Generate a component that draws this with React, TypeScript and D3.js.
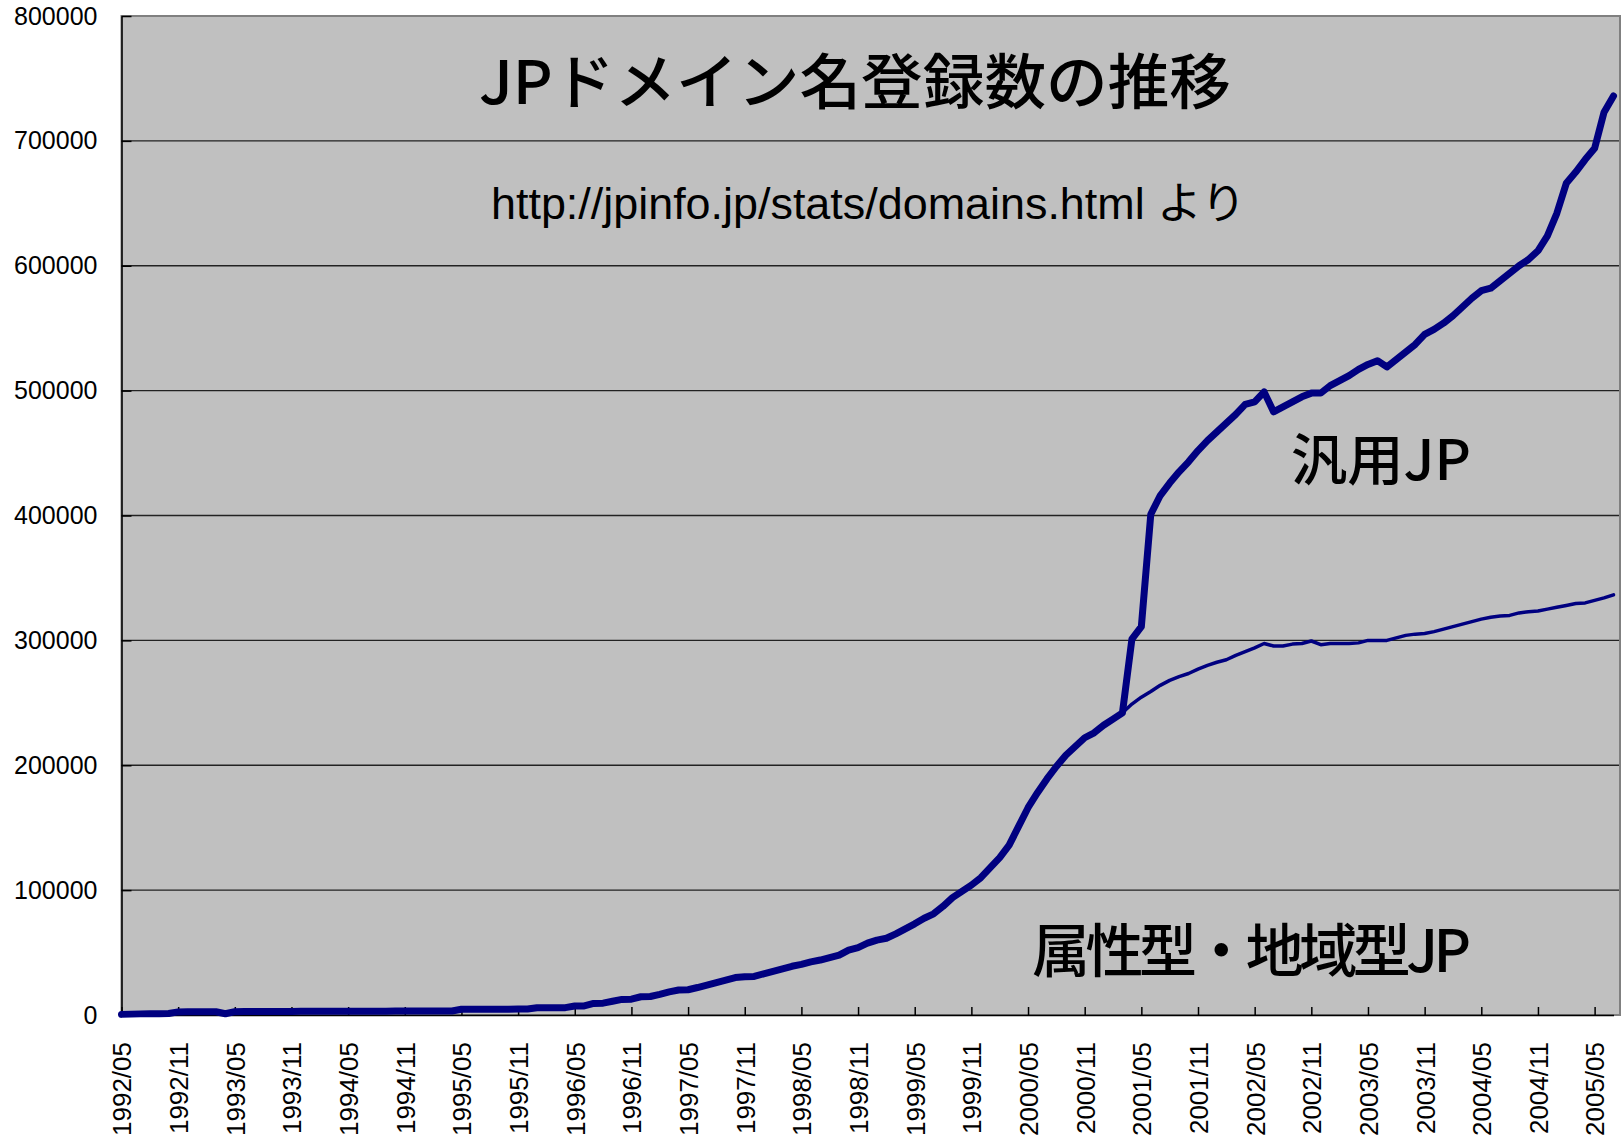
import React, { useRef, useEffect } from 'react';
import * as d3 from 'd3';

const WIDTH = 1622;
const HEIGHT = 1138;

// 属性型・地域型JP, one value a month from 1992/05 to 2005/07
const attrRegional = [
  500, 700, 900, 1000, 1100, 1200, 2500, 2600, 2600, 2600, 2600, 1000,
  2700, 2800, 2800, 2850, 2850, 2900, 2900, 2950, 2950, 3000, 3000, 3000,
  3050, 3050, 3100, 3100, 3100, 3150, 3150, 3150, 3200, 3200, 3200, 3250,
  4600, 4600, 4650, 4650, 4700, 4700, 4750, 4800, 5800, 5800, 5900, 5900,
  7200, 7300, 9300, 9500, 11000, 12500, 12700, 14600, 14800, 16500, 18500, 20000,
  20200, 22000, 24000, 26000, 28000, 30000, 30700, 30900, 33000, 35000, 37000, 39000,
  40500, 42500, 44000, 46000, 48000, 52000, 54000, 57500, 60000, 61500, 65000, 69000,
  73000, 77500, 81000, 87000, 94000, 99000, 104000, 110000, 118000, 126000, 136000, 151000,
  166000, 178000, 189000, 199000, 208000, 215000, 222000, 226000, 232000, 237000, 242000, 249000,
  254500, 259000, 264000, 268000, 271000, 273500, 277000, 280000, 282500, 284500, 288000, 291000,
  294000, 297500, 295500, 295500, 297000, 297500, 299500, 296500, 297500, 297500, 297500, 298000,
  300000, 300000, 300000, 302000, 304000, 305000, 305500, 307000, 309000, 311000, 313000, 315000,
  317000, 318500, 319500, 320000, 322000, 323000, 323500, 325000, 326500, 328000, 329500, 330000,
  332000, 334000, 336500,
];

// 汎用JP, one value a month from 2001/04 (stacked on top of the series above)
const generic = [
  52000, 56500, 142000, 152000, 158000, 164000, 169500, 175000, 180000, 184500, 189500, 193000,
  198000, 197000, 201500, 187500, 191500, 194000, 197500, 198500, 201500, 206500, 210500, 214500,
  219000, 221000, 224000, 219000, 223000, 227000, 232000, 239500, 242000, 245000, 249000, 254000,
  259000, 263000, 263500, 268500, 274000, 278000, 282000, 288500, 299000, 315500, 338000, 345500,
  355000, 362000, 389000, 399500,
];

const firstMonth = '1992/05';
const genericStart = '2001/04';

const yTicks = [0, 100000, 200000, 300000, 400000, 500000, 600000, 700000, 800000];

const xTickLabels = [
  '1992/05', '1992/11', '1993/05', '1993/11', '1994/05', '1994/11', '1995/05', '1995/11',
  '1996/05', '1996/11', '1997/05', '1997/11', '1998/05', '1998/11', '1999/05', '1999/11',
  '2000/05', '2000/11', '2001/05', '2001/11', '2002/05', '2002/11', '2003/05', '2003/11',
  '2004/05', '2004/11', '2005/05',
];

const title = 'JPドメイン名登録数の推移';
const source = 'http://jpinfo.jp/stats/domains.html より';
const genericLabel = '汎用JP';
const attrLabel = '属性型・地域型JP';

const App = () => {
  const ref = useRef<SVGSVGElement>(null);

  useEffect(() => {
    const svg = d3.select(ref.current);
    svg.selectAll('*').remove();

    const margin = { top: 16, right: 2, bottom: 123, left: 121.5 };
    const plotRight = WIDTH - margin.right;
    const plotBottom = HEIGHT - margin.bottom;

    // build month categories
    const parse = d3.timeParse('%Y/%m');
    const fmt = d3.timeFormat('%Y/%m');
    const start = parse(firstMonth) as Date;
    const months = d3.timeMonth.range(start, d3.timeMonth.offset(start, attrRegional.length)).map(fmt);
    const gStart = months.indexOf(genericStart);

    const rows = months.map((m, i) => ({
      month: m,
      attr: attrRegional[i],
      generic: i >= gStart ? generic[i - gStart] : 0,
    }));
    const stacked = d3.stack<any>().keys(['attr', 'generic'])(rows);

    const x = d3.scalePoint<string>()
      .domain(months)
      .range([margin.left, 1613.5]);

    const y = d3.scaleLinear()
      .domain([0, 800000])
      .range([plotBottom, margin.top]);

    // plot area
    svg.append('rect')
      .attr('x', margin.left)
      .attr('y', margin.top)
      .attr('width', plotRight - margin.left)
      .attr('height', plotBottom - margin.top)
      .attr('fill', '#c0c0c0')
      .attr('stroke', '#808080')
      .attr('stroke-width', 2);

    // gridlines
    svg.append('g')
      .selectAll('line')
      .data(yTicks.filter(t => t > 0 && t < 800000))
      .join('line')
      .attr('x1', margin.left)
      .attr('x2', plotRight - 1)
      .attr('y1', d => y(d))
      .attr('y2', d => y(d))
      .attr('stroke', '#222')
      .attr('stroke-width', 1.3);

    // Y axis
    const yAxis = svg.append('g')
      .attr('transform', `translate(${margin.left},0)`)
      .call(d3.axisLeft(y).tickValues(yTicks).tickFormat(d3.format('d')).tickSizeInner(-10).tickSizeOuter(0).tickPadding(24));
    yAxis.selectAll('text')
      .attr('font-family', "'Liberation Sans', Arial, sans-serif")
      .attr('font-size', '25px')
      .attr('fill', '#000');
    yAxis.selectAll('line, path').attr('stroke', '#000').attr('stroke-width', 1.5);

    // X axis
    const xAxis = svg.append('g')
      .attr('transform', `translate(0,${plotBottom})`)
      .call(d3.axisBottom(x).tickValues(xTickLabels).tickSizeInner(-8).tickSizeOuter(0));
    xAxis.selectAll('text')
      .attr('transform', 'rotate(-90)')
      .attr('text-anchor', 'end')
      .attr('x', -27)
      .attr('y', 0)
      .attr('dy', '0.36em')
      .attr('font-family', "'Liberation Sans', Arial, sans-serif")
      .attr('font-size', '26px')
      .attr('fill', '#000');
    xAxis.selectAll('line, path').attr('stroke', '#000').attr('stroke-width', 1.5);

    // lines
    const line = d3.line<any>()
      .x(d => x(d.data.month) as number)
      .y(d => y(d[1]));

    svg.append('path')
      .datum(stacked[0])
      .attr('d', line)
      .attr('fill', 'none')
      .attr('stroke', '#000080')
      .attr('stroke-width', 3.5)
      .attr('stroke-linejoin', 'round')
      .attr('stroke-linecap', 'round');

    svg.append('path')
      .datum(stacked[1])
      .attr('d', line)
      .attr('fill', 'none')
      .attr('stroke', '#000080')
      .attr('stroke-width', 7)
      .attr('stroke-linejoin', 'round')
      .attr('stroke-linecap', 'round');

    // texts
    const cjk = "'Noto Sans CJK JP', 'Liberation Sans', sans-serif";

    svg.append('text')
      .text(title)
      .attr('x', 479)
      .attr('y', 104)
      .attr('textLength', 752)
      .attr('lengthAdjust', 'spacingAndGlyphs')
      .attr('font-family', cjk)
      .attr('font-weight', 500)
      .attr('font-size', '60px')
      .attr('fill', '#000');

    svg.append('text')
      .text(source)
      .attr('x', 491)
      .attr('y', 219)
      .attr('textLength', 755)
      .attr('lengthAdjust', 'spacingAndGlyphs')
      .attr('font-family', "'Liberation Sans', 'Noto Sans CJK JP', sans-serif")
      .attr('font-size', '44px')
      .attr('fill', '#000');

    svg.append('text')
      .text(genericLabel)
      .attr('x', 1291)
      .attr('y', 480)
      .attr('textLength', 180)
      .attr('lengthAdjust', 'spacingAndGlyphs')
      .attr('font-family', cjk)
      .attr('font-weight', 500)
      .attr('font-size', '56px')
      .attr('fill', '#000');

    svg.append('text')
      .text(attrLabel)
      .attr('x', 1032)
      .attr('y', 972)
      .attr('textLength', 439)
      .attr('lengthAdjust', 'spacing')
      .attr('font-family', cjk)
      .attr('font-weight', 500)
      .attr('font-size', '58px')
      .attr('fill', '#000');
  }, []);

  return (
    <svg
      ref={ref}
      width={WIDTH}
      height={HEIGHT}
      style={{ position: 'absolute', left: 0, top: 0, background: '#fff' }}
    />
  );
};

export default App;
